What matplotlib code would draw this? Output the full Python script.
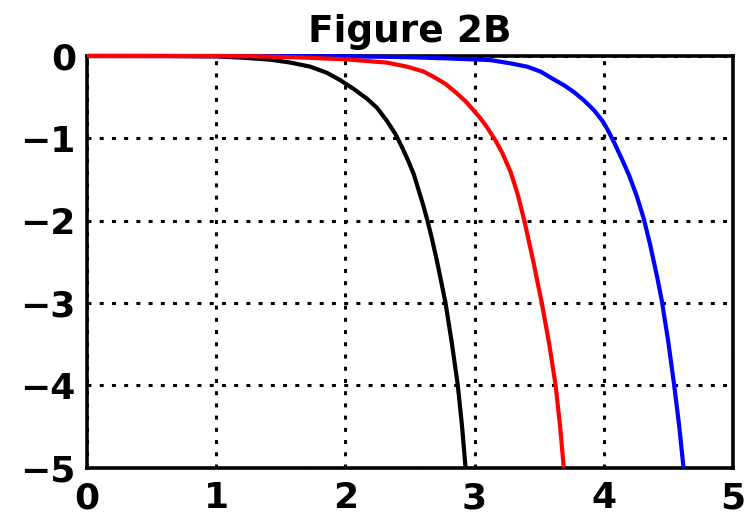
"""
Figure 2B: three decay curves on a dotted grid, x in [0, 5], y in [-5, 0].
Writes out.png in the working folder.
"""

import matplotlib
matplotlib.use("Agg")
import matplotlib.pyplot as plt

# ------------------------------------------------------------------
# Data (points along each curve)
# ------------------------------------------------------------------
BLACK_X = [0.0, 0.6, 1.0, 1.2, 1.42, 1.574, 1.729, 1.858, 1.961, 2.064, 2.168, 2.245,
           2.322, 2.388, 2.439, 2.491, 2.53, 2.565, 2.60, 2.635, 2.67, 2.71, 2.74,
           2.775, 2.825, 2.87, 2.903, 2.93]
BLACK_Y = [0.0, 0.0, -0.005, -0.02, -0.045, -0.08, -0.13, -0.205, -0.295, -0.40, -0.52, -0.63,
           -0.79, -0.95, -1.11, -1.29, -1.44, -1.62, -1.80, -2.0, -2.22, -2.5, -2.73,
           -3.0, -3.5, -4.0, -4.5, -5.0]

RED_X = [0.0, 1.0, 1.3, 1.6, 2.0, 2.32, 2.478, 2.607, 2.685, 2.775, 2.853, 2.93, 2.981,
         3.047, 3.098, 3.163, 3.215, 3.279, 3.332, 3.385, 3.455, 3.52, 3.578, 3.627,
         3.662, 3.69]
RED_Y = [0.0, 0.0, -0.003, -0.015, -0.04, -0.08, -0.13, -0.19, -0.255, -0.34, -0.44, -0.55, -0.64,
         -0.76, -0.87, -1.03, -1.18, -1.41, -1.67, -2.0, -2.5, -3.0, -3.5, -4.0,
         -4.5, -5.0]

BLUE_X = [0.0, 2.0, 2.5, 2.8, 3.124, 3.279, 3.408, 3.512, 3.602, 3.692, 3.77, 3.847,
          3.925, 3.99, 4.028, 4.08, 4.145, 4.196, 4.255, 4.31, 4.36, 4.415, 4.45,
          4.50, 4.545, 4.584, 4.617]
BLUE_Y = [0.0, -0.003, -0.015, -0.03, -0.05, -0.09, -0.13, -0.19, -0.275, -0.355, -0.44, -0.54,
          -0.66, -0.79, -0.89, -1.05, -1.27, -1.45, -1.70, -1.98, -2.30, -2.70, -2.98,
          -3.48, -4.0, -4.5, -5.0]

X_TICKS = [0, 1, 2, 3, 4, 5]
Y_TICKS = [0, -1, -2, -3, -4, -5]
TITLE = "Figure 2B"

plt.rcParams["font.family"] = ["DejaVu Sans"]
plt.rcParams["font.weight"] = "bold"


def main():
    fig = plt.figure(figsize=(7.52, 5.17), dpi=100)
    ax = fig.add_axes([0.1157, 0.0957, 0.859, 0.796])

    # black first, red last so red sits on top along y = 0
    for xs, ys, color in [(BLACK_X, BLACK_Y, "black"),
                          (BLUE_X, BLUE_Y, "#0000ff"),
                          (RED_X, RED_Y, "#ff0000")]:
        ax.plot(xs, ys, color=color, linewidth=3.0, zorder=3, clip_on=False,
                solid_joinstyle="round", solid_capstyle="butt")

    ax.set_xlim(0, 5)
    ax.set_ylim(-5, 0)
    ax.set_xticks(X_TICKS)
    ax.set_yticks(Y_TICKS)
    ax.set_xticklabels([str(t) for t in X_TICKS])
    ax.set_yticklabels(["0" if t == 0 else "\u2212%d" % abs(t) for t in Y_TICKS])

    ax.grid(True, color="black", linewidth=2.2, linestyle=(0, (1.3, 2.7)))
    ax.tick_params(axis="both", length=0, labelsize=26)
    ax.tick_params(axis="x", pad=10)
    ax.tick_params(axis="y", pad=8)

    for spine in ax.spines.values():
        spine.set_linewidth(2.6)
        spine.set_color("black")

    ax.set_title(TITLE, fontsize=27, fontweight="bold", pad=10)

    fig.savefig("out.png", dpi=100)
    plt.close(fig)


if __name__ == "__main__":
    main()
